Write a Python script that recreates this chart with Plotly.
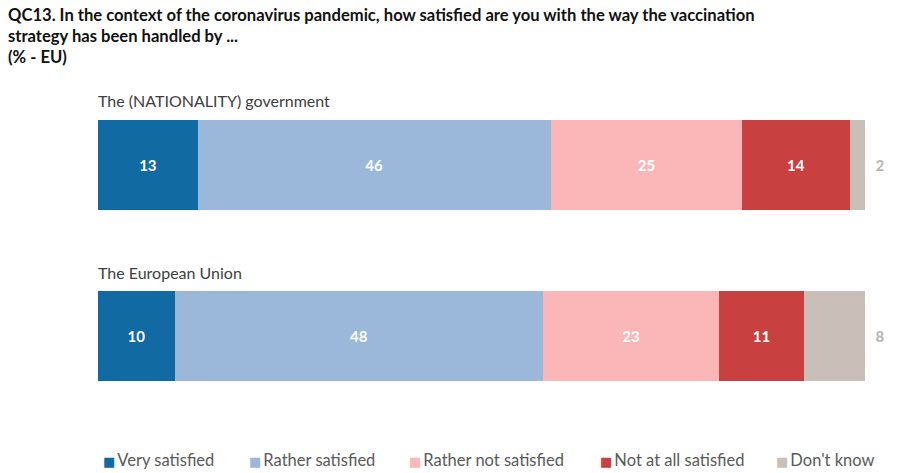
import plotly.graph_objects as go

categories = ["The (NATIONALITY) government", "The European Union"]
series_names = ["Very satisfied", "Rather satisfied", "Rather not satisfied",
                "Not at all satisfied", "Don't know"]
very_satisfied = [13, 10]
rather_satisfied = [46, 48]
rather_not_satisfied = [25, 23]
not_at_all_satisfied = [14, 11]
dont_know = [2, 8]
series_values = [very_satisfied, rather_satisfied, rather_not_satisfied,
                 not_at_all_satisfied, dont_know]

colors = ["#116aa2", "#9bb8da", "#fbb7b7", "#c8403f", "#c9bfb8"]
title_lines = ["QC13. In the context of the coronavirus pandemic, how satisfied are you with the way the vaccination",
               "strategy has been handled by ...",
               "(% - EU)"]
legend_left_px = [103, 249, 409, 600, 776]

FONT = "Lato"
W, H = 901, 473
ML, MR, MT, MB = 98, 36, 79, 51
PW, PH = W - ML - MR, H - MT - MB


def px_x(px):
    return (px - ML) / PW


def px_y(py):
    return 1 - (py - MT) / PH


fig = go.Figure()
for i, (name, vals, col) in enumerate(zip(series_names, series_values, colors)):
    last = i == len(series_names) - 1
    fig.add_trace(go.Bar(
        x=vals, y=categories, orientation="h", name=name,
        marker=dict(color=col, line=dict(width=0)),
        text=[str(v) for v in vals],
        texttemplate="\u2002%{text}" if last else "%{text}",
        textposition="outside" if last else "inside",
        insidetextanchor="middle",
        textfont=dict(family=FONT, size=15, weight="bold",
                      color="#b5b5b5" if last else "white"),
        cliponaxis=False, showlegend=False, width=0.525,
        hoverinfo="skip",
    ))

legend_layouts = {}
for i, (name, col) in enumerate(zip(series_names, colors)):
    key = "legend" if i == 0 else f"legend{i+1}"
    fig.add_trace(go.Scatter(
        x=[None], y=[None], mode="markers",
        marker=dict(color="rgba(0,0,0,0)", size=1),
        name=(f"<span style='color:{col};font-size:13px;font-family:DejaVu Sans'>"
              f"\u25a0</span>\u2009{name}"),
        legend=key, showlegend=True, hoverinfo="skip",
    ))
    legend_layouts[key] = dict(
        x=(legend_left_px[i] - 40) / W, y=1 - 460 / H,
        xref="container", yref="container",
        xanchor="left", yanchor="middle",
        orientation="h", bgcolor="rgba(0,0,0,0)", borderwidth=0,
        font=dict(family=FONT, size=16.5, color="#5a5a5a"),
        itemwidth=30,
    )

annotations = []
for cat in categories:
    annotations.append(dict(
        x=0, y=cat, xref="x", yref="y", text=cat, showarrow=False,
        xanchor="left", yanchor="middle", yshift=64, xshift=-2,
        font=dict(family=FONT, size=16, color="#404040"),
    ))
for j, line in enumerate(title_lines):
    annotations.append(dict(
        x=px_x(8), y=px_y(15 + 21 * j), xref="paper", yref="paper",
        text=f"<b>{line}</b>", showarrow=False, xanchor="left", yanchor="middle",
        xshift=-2,
        font=dict(family=FONT, size=16.6, color="#111111"),
    ))

fig.update_layout(
    width=W, height=H,
    barmode="stack",
    margin=dict(l=ML, r=MR, t=MT, b=MB),
    paper_bgcolor="white", plot_bgcolor="white",
    xaxis=dict(range=[0, 100], visible=False, fixedrange=True),
    yaxis=dict(type="category", categoryorder="array", categoryarray=categories,
               range=[1.5, -0.5], visible=False, fixedrange=True),
    annotations=annotations,
    **legend_layouts,
)

fig.write_html("out.html")
